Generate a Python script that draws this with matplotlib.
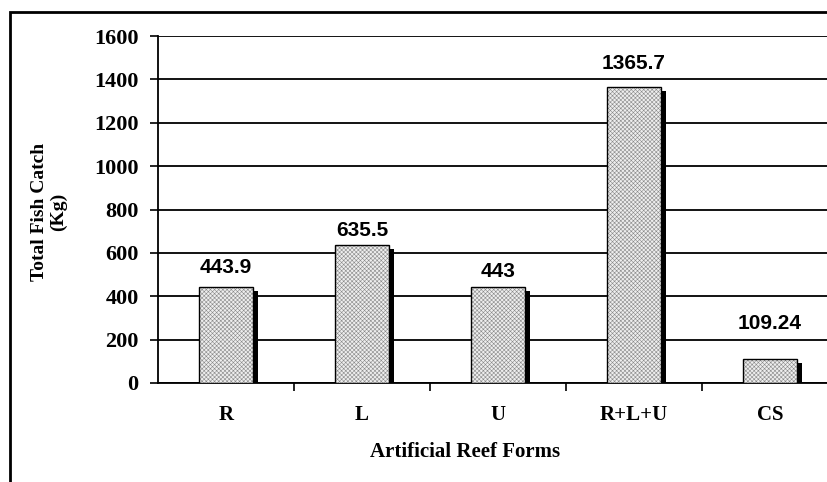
import matplotlib
matplotlib.use("Agg")
import matplotlib.pyplot as plt
from matplotlib.patches import Rectangle

forms = ['R', 'L', 'U', 'R+L+U', 'CS']
catch_kg = [443.9, 635.5, 443, 1365.7, 109.24]
value_labels = ['443.9', '635.5', '443', '1365.7', '109.24']
yticks = [0, 200, 400, 600, 800, 1000, 1200, 1400, 1600]

plt.rcParams['hatch.linewidth'] = 0.4

fig = plt.figure(figsize=(8.28, 4.82), dpi=100)
W, H = 828.0, 482.0
ax = fig.add_axes([158 / W, 1 - 383 / H, 680 / W, 347 / H])

x = list(range(len(forms)))
# shadow behind bars
ax.bar([i + 0.035 for i in x], [v - 18 for v in catch_kg], width=0.40,
       color='black', zorder=2)
# hatch takes the edge colour, so fill and outline are drawn separately
ax.bar(x, catch_kg, width=0.40, facecolor='#eeeeee', edgecolor='#8a8a8a',
       linewidth=0, hatch='xxxxxxxx', zorder=3)
ax.bar(x, catch_kg, width=0.40, fill=False, edgecolor='black', linewidth=1.0, zorder=4)

# labels that would sit on a gridline are lifted above it
lift = [7, 4, 4, 10, 19]
for i, v in enumerate(catch_kg):
    ax.annotate(value_labels[i], (i, v), xytext=(0, lift[i]), textcoords='offset points',
                ha='center', va='bottom', fontsize=15, fontweight='bold',
                family='Liberation Sans')

ax.set_xlim(-0.5, 4.5)
ax.set_ylim(0, 1600)
ax.set_yticks(yticks)
ax.set_yticklabels([str(t) for t in yticks], fontsize=16, fontweight='bold',
                   family='Liberation Serif')
ax.yaxis.grid(True, color='black', linewidth=1.3, zorder=0)
ax.set_axisbelow(True)

ax.set_xticks(x)
ax.set_xticklabels(forms, fontsize=15, fontweight='bold', family='Liberation Serif')
ax.set_xticks([0.5, 1.5, 2.5, 3.5], minor=True)
ax.tick_params(axis='x', which='major', length=0, pad=16)
ax.tick_params(axis='x', which='minor', length=6, width=1.2, direction='out')
ax.tick_params(axis='y', length=6, width=1.2, direction='out', pad=8)

for s in ['top', 'right']:
    ax.spines[s].set_visible(False)
for s in ['left', 'bottom']:
    ax.spines[s].set_linewidth(1.3)

fig.text(465 / W, 1 - 452 / H, 'Artificial Reef Forms', ha='center', va='center',
         fontsize=15, fontweight='bold', family='Liberation Serif')
fig.text(49 / W, 1 - 212 / H, 'Total Fish Catch\n(Kg)', ha='center', va='center',
         rotation=90, fontsize=14, fontweight='bold', family='Liberation Serif',
         linespacing=1.15)

fig.patches.append(Rectangle((10 / W, -0.1), 2, 1.1 - 12 / H, transform=fig.transFigure,
                             fill=False, edgecolor='black', linewidth=2))

fig.savefig('out.png', dpi=100)
